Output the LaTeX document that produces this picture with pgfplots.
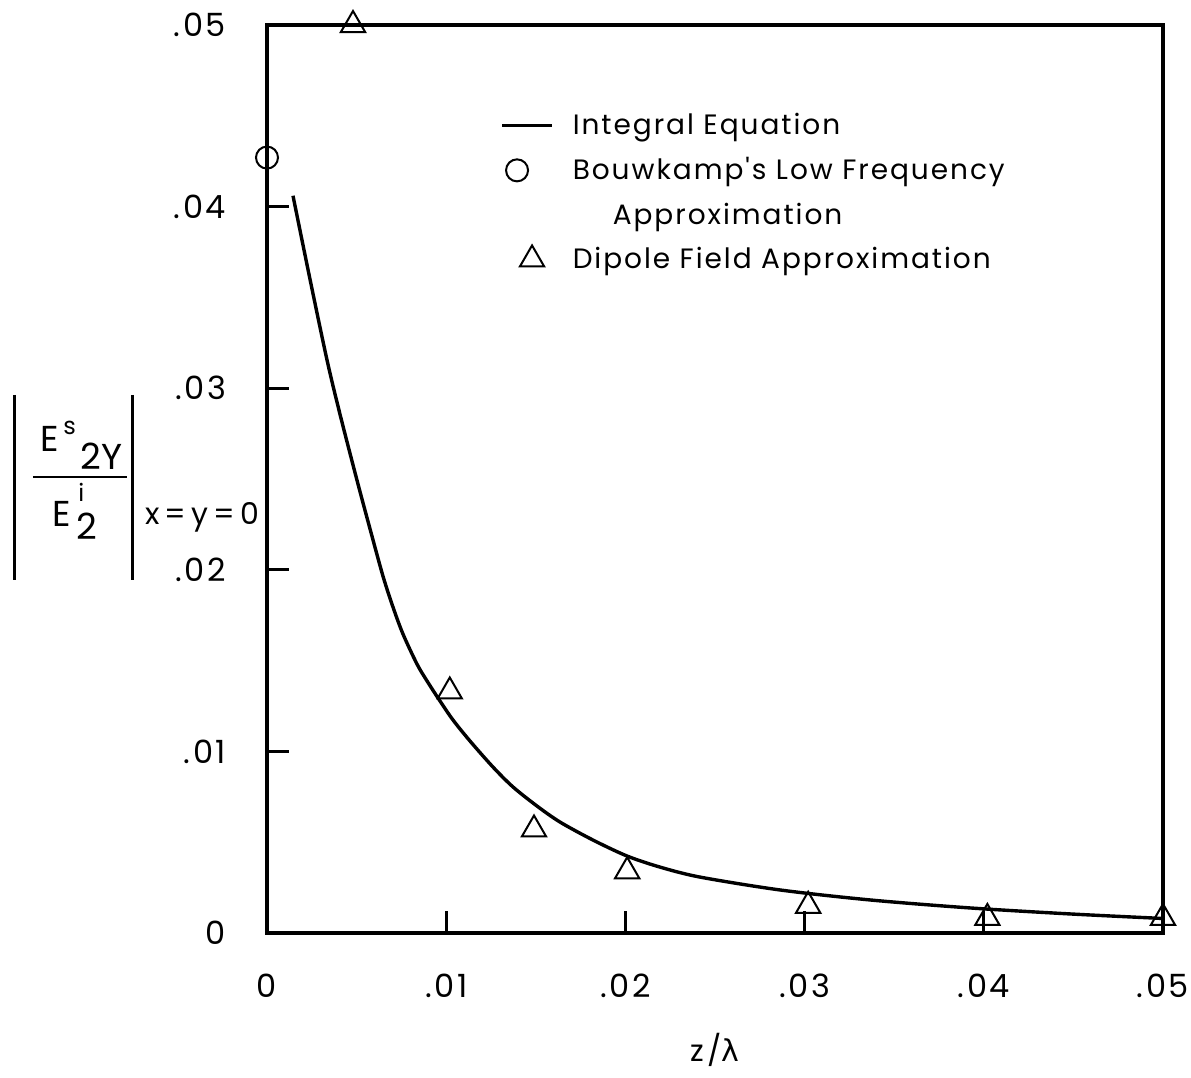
\documentclass[border=0pt]{standalone}
\usepackage{fontspec}
\setmainfont{Poppins}
\newfontfamily\tickfont[LetterSpace=8]{Poppins}
\newfontfamily\legfont[LetterSpace=7, Ligatures=ResetAll]{Poppins}
\newfontfamily\greekfont{DejaVu Sans}
\usepackage{pgfplots}
\pgfplotsset{compat=1.18}

% legend samples: 25pt wide, marks at fixed offsets
\pgfplotsset{
  lineleg/.style={legend image code/.code={\draw[##1] (0pt,0pt) -- (25pt,0pt);}},
  markleg/.style={legend image code/.code={\path[draw=none] (0pt,0pt) -- (25pt,0pt);
      \draw[##1] plot coordinates {(#1,0pt)};}},
  emptyleg/.style={legend image code/.code={\path[draw=none] (0pt,0pt) -- (25pt,0pt);}},
}

% curve from the integral equation solution
\pgfplotstableread{
z       E
0.00145 0.0406
0.00240 0.0360
0.00335 0.03155
0.00407 0.02858
0.00502 0.02494
0.00575 0.02225
0.00647 0.01966
0.00703 0.01795
0.00759 0.01646
0.00837 0.01481
0.00893 0.01388
0.00965 0.01278
0.01038 0.01173
0.01133 0.01057
0.01261 0.00914
0.01373 0.00804
0.01507 0.00699
0.01635 0.00611
0.01819 0.00512
0.02009 0.00424
0.02193 0.00363
0.02416 0.00308
0.02863 0.00237
0.03365 0.00182
0.03923 0.00138
0.04481 0.00105
0.05000 0.00080
}\integral

% dipole field approximation
\pgfplotstableread{
z      E
0.0048 0.0500
0.0102 0.0133
0.0149 0.0057
0.0201 0.0034
0.0302 0.0015
0.0402 0.00083
0.0500 0.00083
}\dipole

\begin{document}
\begin{tikzpicture}[x=1pt,y=1pt]
\useasboundingbox (-133.5,-72.5) rectangle (462,466.5);
\begin{axis}[
  at={(0pt,0pt)}, anchor=south west,
  scale only axis, width=448pt, height=454pt,
  xmin=0, xmax=0.05, ymin=0, ymax=0.05,
  clip=false,
  scaled ticks=false,
  axis line style={line width=2pt, line cap=rect},
  tick align=inside, tick pos=left,
  major tick length=11pt,
  every tick/.style={black, line width=1.4pt},
  xtick={0,0.01,0.02,0.03,0.04,0.05},
  ytick={0,0.01,0.02,0.03,0.04,0.05},
  xticklabels={0,.01,.02,.03,.04,.05},
  yticklabels={0,.01,.02,.03,.04,.05},
  xticklabel style={font=\tickfont\fontsize{16}{18}\selectfont, yshift=-17pt},
  yticklabel style={font=\tickfont\fontsize{16}{18}\selectfont, xshift=-17pt},
  legend cell align=left,
  legend style={at={(0.26,0.9075)}, anchor=north west, draw=none, fill=none,
    font=\legfont\fontsize{14}{16}\selectfont, row sep=6pt, column sep=7.5pt,
    inner sep=0pt},
]
\addplot[black, line width=1.7pt, smooth, lineleg]
  table {\integral};
\addlegendentry{Integral Equation}

\addplot[only marks, mark=o, mark size=5.5pt,
  mark options={black, fill=white, line width=1pt}, markleg=7.5pt]
  coordinates {(0,0.0427)};
\addlegendentry{Bouwkamp's Low Frequency}

\addlegendimage{emptyleg}
\addlegendentry{\hspace*{20pt}Approximation}

\addplot[only marks, mark=triangle, mark size=7pt,
  mark options={black, fill=white, line width=1pt}, markleg=15pt]
  table {\dipole};
\addlegendentry{Dipole Field Approximation}
\end{axis}

% x axis title
\node[font=\tickfont\fontsize{15}{17}\selectfont] at (224,-58.5) {z/{\greekfont λ}};

% y axis title: |E^s_2Y / E^i_2| at x=y=0
\begin{scope}[every node/.style={inner sep=0pt}]
\draw[line width=1.5pt] (-126,269) -- (-126,176.5);
\draw[line width=1.5pt] (-67,269) -- (-67,176.5);
\draw[line width=1.2pt] (-117,228) -- (-70,228);
\node[anchor=base west, font=\fontsize{18}{20}\selectfont] at (-113.5,240.5) {E};
\node[anchor=base west, font=\fontsize{12}{14}\selectfont] at (-102,249) {s};
\node[anchor=base west, font=\fontsize{18}{20}\selectfont] at (-93.5,231.5) {2Y};
\node[anchor=base west, font=\fontsize{18}{20}\selectfont] at (-107.5,203) {E};
\node[anchor=base west, font=\fontsize{12}{14}\selectfont] at (-94.5,215.5) {i};
\node[anchor=base west, font=\fontsize{18}{20}\selectfont] at (-95.5,196.5) {2};
\node[anchor=base west, font=\fontsize{15}{18}\selectfont] at (-61,204)
  {x\hspace{2.5pt}=\hspace{2.5pt}y\hspace{2.5pt}=\hspace{2.5pt}0};
\end{scope}
\end{tikzpicture}
\end{document}
